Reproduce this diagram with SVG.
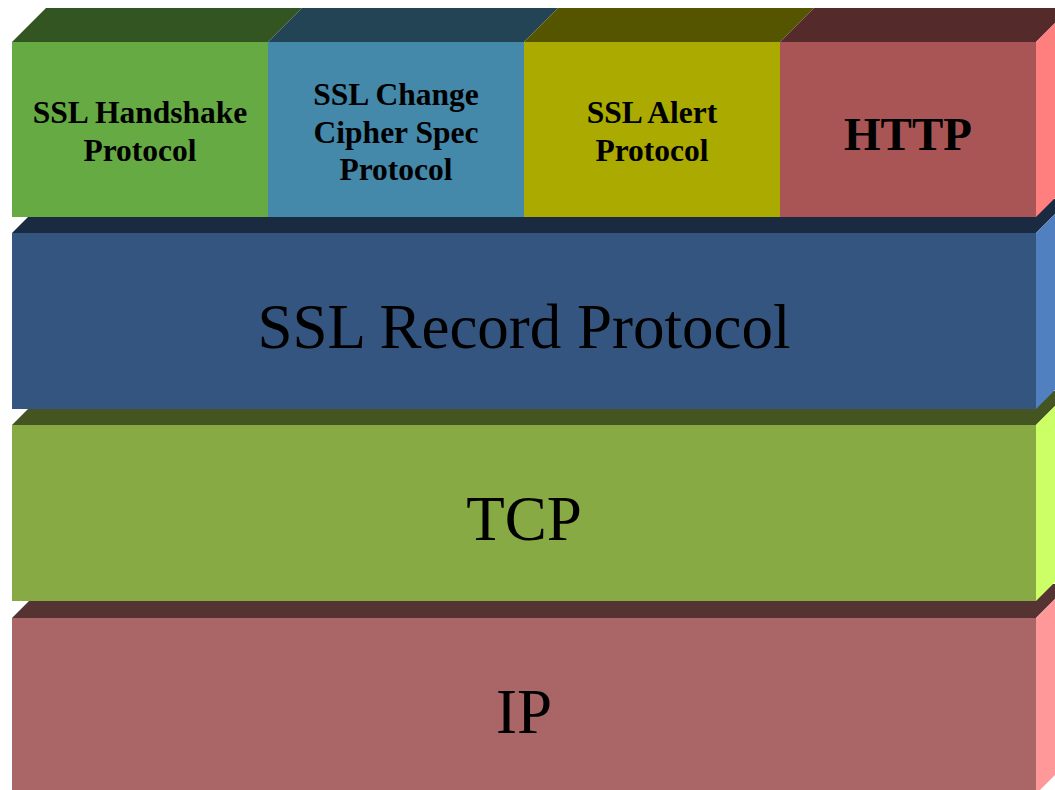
<svg xmlns="http://www.w3.org/2000/svg" width="1055" height="790" viewBox="0 0 1055 790">
<style>
.small{font-family:"Liberation Serif","Times New Roman",serif;font-weight:bold;font-size:31.5px;text-anchor:middle;fill:#000}
.http{font-family:"Liberation Serif","Times New Roman",serif;font-weight:bold;font-size:47px;text-anchor:middle;fill:#000}
.big{font-family:"Liberation Serif","Times New Roman",serif;font-size:63px;text-anchor:middle;fill:#000}
</style>
<rect width="1055" height="790" fill="#fff"/>
<g id="ip">
<polygon points="12,618 46,584 1070,584 1036,618" fill="#553333"/>
<polygon points="1036,618 1070,584 1070,760 1036,794" fill="#ff9999"/>
<rect x="12" y="618" width="1024" height="176" fill="#aa6666"/>
<text class="big" x="524" y="733">IP</text>
</g>
<g id="tcp">
<polygon points="12,425 46,391 1070,391 1036,425" fill="#445522"/>
<polygon points="1036,425 1070,391 1070,567 1036,601" fill="#ccff66"/>
<rect x="12" y="425" width="1024" height="176" fill="#88aa44"/>
<text class="big" x="524" y="540">TCP</text>
</g>
<g id="ssl-record">
<polygon points="12,233 46,199 1070,199 1036,233" fill="#1a2a40"/>
<polygon points="1036,233 1070,199 1070,375 1036,409" fill="#5080c0"/>
<rect x="12" y="233" width="1024" height="176" fill="#34557f"/>
<text class="big" x="524" y="348">SSL Record Protocol</text>
</g>
<g id="ssl-handshake">
<polygon points="12,42 46,8 302,8 268,42" fill="#335522"/>
<rect x="12" y="42" width="256" height="175" fill="#66aa44"/>
<text class="small" x="140" y="123">SSL Handshake</text>
<text class="small" x="140" y="161">Protocol</text>
</g>
<g id="ssl-change-cipher-spec">
<polygon points="268,42 302,8 558,8 524,42" fill="#224455"/>
<rect x="268" y="42" width="256" height="175" fill="#4488aa"/>
<text class="small" x="396" y="105">SSL Change</text>
<text class="small" x="396" y="143">Cipher Spec</text>
<text class="small" x="396" y="180">Protocol</text>
</g>
<g id="ssl-alert">
<polygon points="524,42 558,8 814,8 780,42" fill="#555500"/>
<rect x="524" y="42" width="256" height="175" fill="#aaaa00"/>
<text class="small" x="652" y="123">SSL Alert</text>
<text class="small" x="652" y="161">Protocol</text>
</g>
<g id="http">
<polygon points="780,42 814,8 1070,8 1036,42" fill="#552a2a"/>
<polygon points="1036,42 1070,8 1070,183 1036,217" fill="#ff7f7f"/>
<rect x="780" y="42" width="256" height="175" fill="#aa5555"/>
<text class="http" x="908" y="150">HTTP</text>
</g>
</svg>
